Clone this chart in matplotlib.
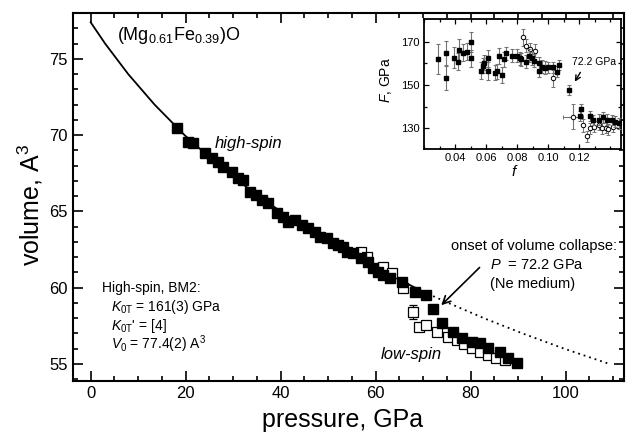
import matplotlib
matplotlib.use("Agg")
import matplotlib.pyplot as plt
from matplotlib.ticker import MultipleLocator, FixedLocator, FormatStrFormatter

plt.rcParams['font.family'] = ['Liberation Sans', 'DejaVu Sans']
plt.rcParams['mathtext.fontset'] = 'custom'
plt.rcParams['mathtext.rm'] = 'Liberation Sans'
plt.rcParams['mathtext.it'] = 'Liberation Sans:italic'
plt.rcParams['mathtext.bf'] = 'Liberation Sans:bold'

# ---- main panel data (pressure GPa, volume A^3) ----
fit_P_solid = [0, 3.05, 7.91, 13.46, 19.78, 27.0, 35.3, 44.8, 55.7, 68.3, 71.0]
fit_V_solid = [77.4, 76.0, 74.0, 72.0, 70.0, 68.0, 66.0, 64.0, 62.0, 60.0, 59.6]
fit_P_dotted = [71.0, 75.3, 82.8, 90.95, 99.7, 109.2]
fit_V_dotted = [59.6, 59.0, 58.0, 57.0, 56.0, 55.0]

filled_P = [18.2, 20.55, 21.6, 24.06, 25.5, 26.9, 27.9, 29.7, 31.1, 32.1, 33.5, 34.9, 36.0,
            37.4, 39.2, 40.5, 41.6, 43.0, 44.4, 45.8, 47.2, 48.3, 49.7, 51.1, 52.1, 53.2,
            53.9, 55.3, 57.0, 58.4, 59.5, 60.5, 61.6, 63.0, 65.5, 68.3, 70.7, 72.1, 73.9,
            76.3, 78.1, 80.2, 82.0, 83.7, 86.2, 87.9, 89.7]
filled_V = [70.46, 69.57, 69.46, 68.81, 68.48, 68.26, 67.93, 67.6, 67.17, 67.06, 66.29, 66.07,
            65.75, 65.53, 64.88, 64.65, 64.33, 64.45, 64.11, 63.89, 63.67, 63.34, 63.24, 62.91,
            62.8, 62.69, 62.36, 62.25, 61.93, 61.7, 61.27, 61.05, 60.83, 60.62, 60.39, 59.74,
            59.52, 58.58, 57.67, 57.12, 56.68, 56.46, 56.35, 56.03, 55.81, 55.37, 55.04]

open_P = [57.0, 58.1, 61.6, 63.4, 65.8, 67.8, 69.2, 70.7, 73.0, 75.3, 77.1, 78.6, 80.2, 82.0,
          83.6, 85.4, 87.2]
open_V = [62.36, 62.03, 61.38, 60.94, 59.96, 58.4, 57.45, 57.56, 57.12, 56.79, 56.57, 56.3,
          56.03, 55.81, 55.59, 55.4, 55.26]
open_Verr = [0, 0, 0, 0, 0, 0.45, 0, 0, 0, 0, 0, 0, 0, 0, 0, 0, 0]

# ---- inset data (Eulerian strain f, normalized pressure F in GPa) ----
hs_f = [0.0288, 0.0342, 0.0342, 0.0396, 0.0417, 0.0428, 0.0454, 0.048, 0.0503, 0.0503, 0.0566,
        0.0579, 0.0589, 0.0615, 0.0615, 0.0658, 0.0673, 0.0701, 0.0686, 0.0716, 0.0727, 0.0766,
        0.0798, 0.0819, 0.0826, 0.0858, 0.0877, 0.0895, 0.091, 0.0942, 0.096, 0.0944, 0.0981,
        0.1002, 0.103, 0.1056, 0.1071, 0.1137, 0.1213, 0.1206, 0.1267, 0.1292, 0.1325, 0.1353,
        0.1379, 0.1411, 0.1432, 0.1454]
hs_F = [161.9, 164.6, 153.4, 162.6, 160.8, 166.2, 164.9, 165.4, 169.7, 162.3, 156.6, 158.8,
        160.3, 156.5, 162.3, 155.7, 156.3, 154.6, 163.4, 161.9, 164.6, 163.4, 163.4, 162.3,
        161.9, 160.8, 163.4, 162.3, 161.2, 160.0, 158.5, 156.6, 158.0, 158.2, 158.2, 156.1,
        159.2, 147.7, 138.8, 135.7, 135.7, 133.8, 133.9, 135.1, 133.9, 133.8, 133.0, 132.3]
hs_err = [7, 5.8, 5.6, 5, 4, 5, 4, 4, 4.6, 4, 4, 3.5, 3.5, 4, 4, 3.5, 3.5, 3.5, 3.5, 3.5, 3, 3,
          3, 3, 3, 3, 3, 3, 3, 3, 3, 3, 3, 2.5, 2.5, 2.5, 2.5, 2.5, 2.5, 2.5, 2.5, 2.5, 2.5,
          2.5, 2.5, 2.5, 2.5, 2.5]

ls_f = [0.0837, 0.0856, 0.0884, 0.0916, 0.103, 0.1163, 0.1228, 0.125, 0.1271, 0.1297, 0.1325,
        0.1346, 0.1374, 0.1389, 0.1417]
ls_F = [172.0, 168.0, 166.5, 165.9, 153.1, 135.4, 131.5, 126.4, 130.0, 130.7, 131.5, 130.0,
        130.3, 129.5, 130.7]
ls_err = [4, 3, 3, 3, 4, 5.8, 3, 2.5, 2.5, 2.5, 2.5, 2.5, 2.5, 2.5, 2.5]
ls_ferr = [0, 0, 0, 0, 0, 0.0065, 0, 0, 0, 0, 0, 0, 0, 0, 0]

W, H = 627, 437
fig = plt.figure(figsize=(W / 100, H / 100), dpi=100)

def fr(x0, y0, x1, y1):
    return [x0 / W, 1 - y1 / H, (x1 - x0) / W, (y1 - y0) / H]

ax = fig.add_axes(fr(72.5, 12.7, 624, 380.7))
ax.set_xlim(-3.83, 112.3)
ax.set_ylim(53.9, 78.03)

ax.plot(fit_P_solid, fit_V_solid, color='black', lw=1.3, zorder=2)
ax.plot(fit_P_dotted, fit_V_dotted, color='black', lw=1.3, ls=(0, (1, 2.2)), zorder=2)
ax.errorbar(open_P, open_V, yerr=open_Verr, fmt='s', ms=7, mfc='white', mec='black', mew=0.9,
            ecolor='black', elinewidth=0.9, capsize=3, capthick=0.9, zorder=3)
ax.plot(filled_P, filled_V, 's', ms=7, color='black', zorder=4)

ax.xaxis.set_major_locator(MultipleLocator(20))
ax.xaxis.set_minor_locator(MultipleLocator(5))
ax.yaxis.set_major_locator(MultipleLocator(5))
ax.yaxis.set_minor_locator(MultipleLocator(1))
ax.tick_params(which='both', direction='in', top=True, right=True, width=1.2, labelsize=12)
ax.tick_params(which='major', length=7)
ax.tick_params(which='minor', length=3.5)
for s in ax.spines.values():
    s.set_linewidth(1.5)

fig.text(343 / W, 1 - 420 / H, 'pressure, GPa', fontsize=18, ha='center', va='center')
fig.text(30 / W, 1 - 205 / H, 'volume, A$^3$', fontsize=18, ha='center', va='center', rotation=90)

ax.text(5.5, 76.56, r'(Mg$_{0.61}$Fe$_{0.39}$)O', fontsize=13, va='center', ha='left')
ax.text(26.2, 69.46, 'high-spin', fontsize=12, style='italic', va='center', ha='left')
ax.text(61.1, 55.59, 'low-spin', fontsize=12, style='italic', va='center', ha='left')
ax.text(75.8, 62.73, 'onset of volume collapse:', fontsize=10.5, va='center', ha='left')
ax.text(84.1, 61.49, r'$P$  = 72.2 GPa', fontsize=10.5, va='center', ha='left')
ax.text(84.1, 60.24, '(Ne medium)', fontsize=10.5, va='center', ha='left')
ax.annotate('', xy=(73.4, 58.72), xytext=(82.3, 61.45),
            arrowprops=dict(arrowstyle='->', lw=1.2, color='black', mutation_scale=14))

ax.text(2.3, 59.95, 'High-spin, BM2:', fontsize=10, va='center', ha='left')
ax.text(4.2, 58.7, r'$K_{0\mathrm{T}}$ = 161(3) GPa', fontsize=10, va='center', ha='left')
ax.text(4.2, 57.5, r"$K_{0\mathrm{T}}$' = [4]", fontsize=10, va='center', ha='left')
ax.text(4.2, 56.3, r'$V_0$ = 77.4(2) A$^3$', fontsize=10, va='center', ha='left')

# ---- inset ----
ins = fig.add_axes(fr(424, 19.3, 621, 149.3))
ins.set_xlim(0.02, 0.147)
ins.set_ylim(120.3, 180.3)
ins.errorbar(hs_f, hs_F, yerr=hs_err, fmt='s', ms=3.2, color='black', ecolor='0.45',
             elinewidth=0.8, capsize=1.6, capthick=0.8, zorder=3)
ins.errorbar(ls_f, ls_F, yerr=ls_err, xerr=ls_ferr, fmt='o', ms=3.2, mfc='white', mec='black',
             mew=0.7, ecolor='0.45', elinewidth=0.8, capsize=1.6, capthick=0.8, zorder=2)
ins.xaxis.set_major_locator(FixedLocator([0.04, 0.06, 0.08, 0.10, 0.12]))
ins.xaxis.set_major_formatter(FormatStrFormatter('%.2f'))
ins.xaxis.set_minor_locator(MultipleLocator(0.01))
ins.yaxis.set_major_locator(FixedLocator([130, 150, 170]))
ins.yaxis.set_minor_locator(FixedLocator([140, 160]))
ins.tick_params(which='both', direction='in', top=True, right=True, width=0.9, labelsize=8, pad=3)
ins.tick_params(which='major', length=3.5)
ins.tick_params(which='minor', length=2)
for s in ins.spines.values():
    s.set_linewidth(1.3)
fig.text(386 / W, 1 - 80 / H, r'$F$, GPa', fontsize=10, ha='center', va='center', rotation=90)
fig.text(515 / W, 1 - 172 / H, r'$f$', fontsize=11, ha='center', va='center')
ins.text(0.1153, 160.8, '72.2 GPa', fontsize=7.5, va='center', ha='left')
ins.annotate('', xy=(0.1163, 150.4), xytext=(0.1217, 156.9),
             arrowprops=dict(arrowstyle='->', lw=1.0, color='black', mutation_scale=9))

fig.savefig('out.png', dpi=100)
